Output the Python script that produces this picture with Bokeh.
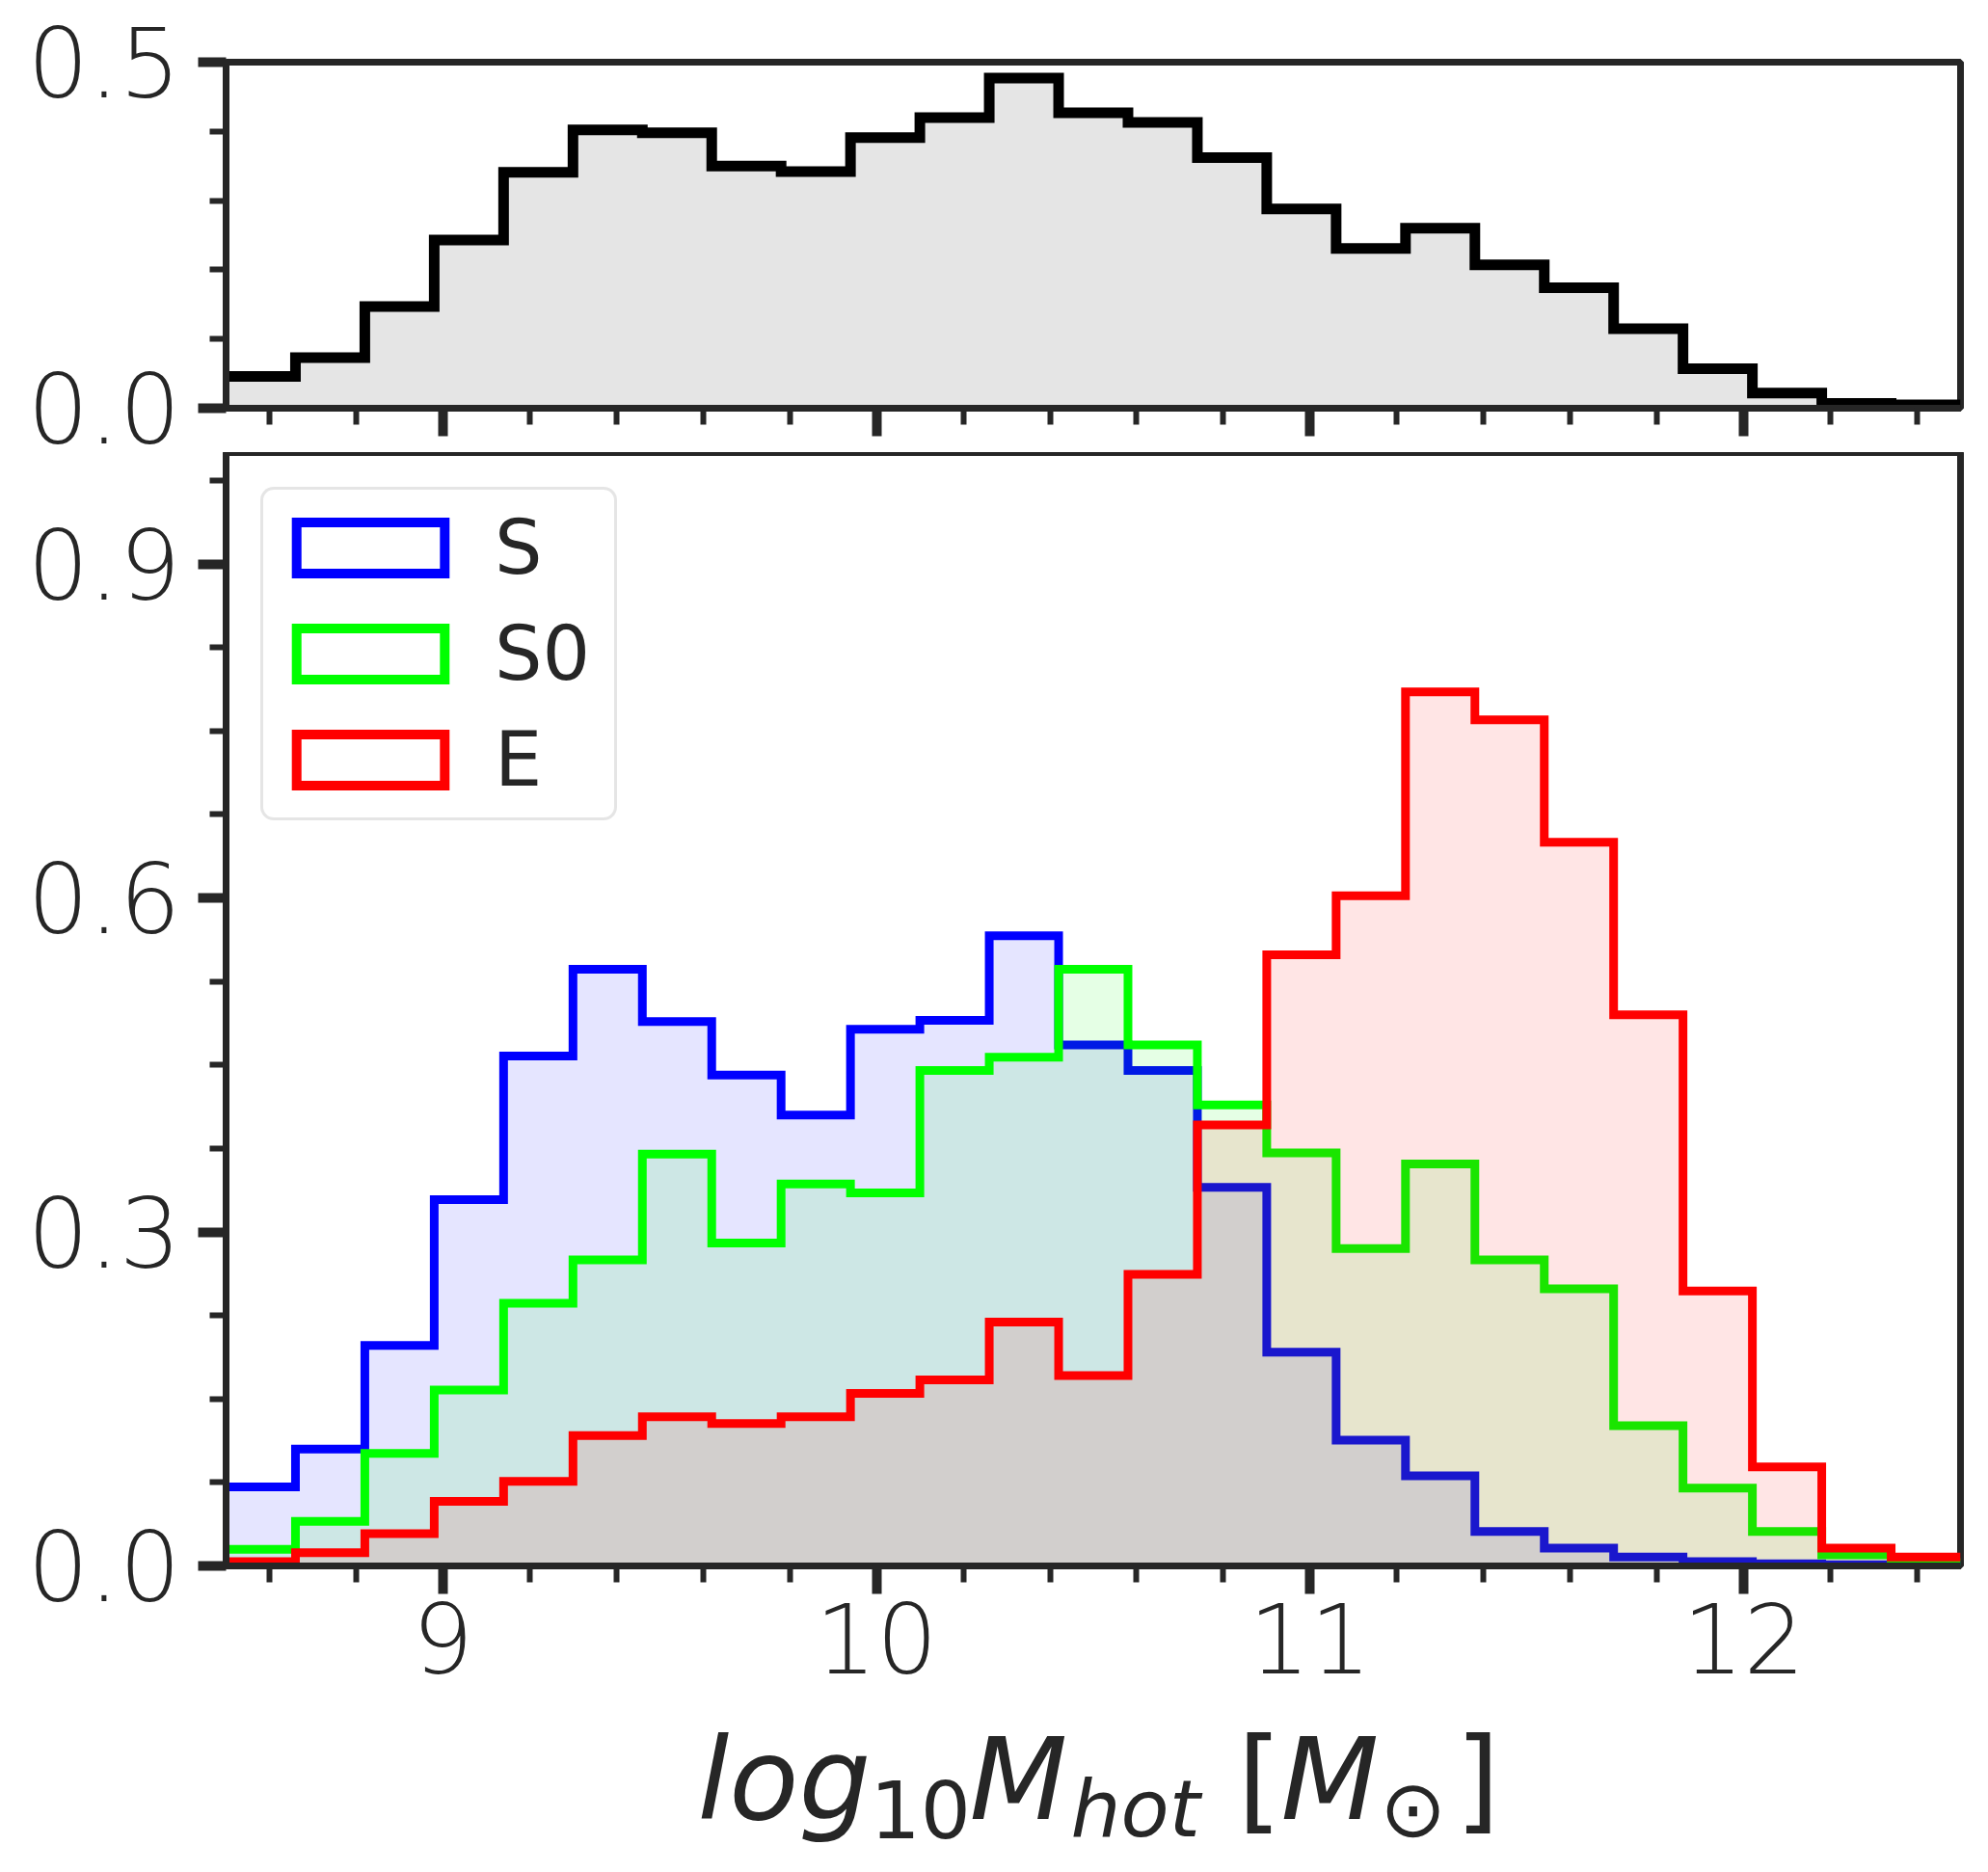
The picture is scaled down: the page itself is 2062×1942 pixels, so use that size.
import numpy as np
from bokeh.plotting import figure
from bokeh.layouts import column
from bokeh.models import (FixedTicker, Range1d, Label, Legend, LegendItem,
                          PrintfTickFormatter)
from bokeh.embed import file_html
from bokeh.resources import INLINE

# ---------------- data ----------------
x_min, x_max, n_bins = 8.5, 12.5, 25

all_density = [0.046, 0.073, 0.147, 0.243, 0.341, 0.402, 0.398, 0.350, 0.342,
               0.391, 0.420, 0.477, 0.427, 0.413, 0.362, 0.288, 0.231, 0.260,
               0.207, 0.174, 0.115, 0.057, 0.022, 0.007, 0.005]

S_density = [0.071, 0.105, 0.198, 0.329, 0.458, 0.536, 0.489, 0.441, 0.405,
             0.482, 0.490, 0.566, 0.468, 0.445, 0.340, 0.192, 0.113, 0.081,
             0.031, 0.016, 0.008, 0.004, 0.002, 0.001, 0.0005]

S0_density = [0.015, 0.040, 0.101, 0.158, 0.236, 0.275, 0.370, 0.290, 0.343,
              0.335, 0.445, 0.457, 0.536, 0.468, 0.414, 0.371, 0.285, 0.361,
              0.275, 0.249, 0.126, 0.070, 0.031, 0.010, 0.003]

E_density = [0.004, 0.012, 0.029, 0.058, 0.076, 0.117, 0.134, 0.128, 0.134,
             0.155, 0.167, 0.219, 0.171, 0.262, 0.396, 0.549, 0.602, 0.785,
             0.760, 0.650, 0.495, 0.247, 0.089, 0.016, 0.008]

series_names = ["S", "S0", "E"]
series_colors = ["#0000ff", "#00ff00", "#ff0000"]
series_values = [S_density, S0_density, E_density]

x_major = [9, 10, 11, 12]
x_minor = [8.6, 8.8, 9.2, 9.4, 9.6, 9.8, 10.2, 10.4, 10.6, 10.8,
           11.2, 11.4, 11.6, 11.8, 12.2, 12.4]
top_y_major = [0.0, 0.5]
top_y_minor = [0.1, 0.2, 0.3, 0.4]
bot_y_major = [0.0, 0.3, 0.6, 0.9]
bot_y_minor = [0.075, 0.15, 0.225, 0.375, 0.45, 0.525, 0.675, 0.75, 0.825, 0.975]

edges = np.linspace(x_min, x_max, n_bins + 1)


def step_vals(vals):
    return list(vals) + [vals[-1]]


TXT = "#262626"
FONT = "DejaVu Sans"
W = 2053
LEFT = 234
RIGHT = 20
TOP1 = 64
FRAME1 = 359
BOT1 = 76          # room for the top panel's "0.0" label
OVERLAP = 30       # bottom panel canvas slides up under that room
FRAME2 = 1155
BOT2 = 150
TITLE_H = 160


def style(p, xlabels=True):
    p.grid.visible = False
    p.outline_line_color = TXT
    p.outline_line_width = 7
    for ax in (p.xaxis[0], p.yaxis[0]):
        ax.axis_line_color = TXT
        ax.axis_line_width = 7
        ax.major_tick_line_color = TXT
        ax.minor_tick_line_color = TXT
        ax.major_tick_line_width = 10
        ax.minor_tick_line_width = 6
        ax.major_tick_out = 29
        ax.major_tick_in = 0
        ax.minor_tick_out = 17
        ax.minor_tick_in = 0
        ax.major_label_text_font = FONT
        ax.major_label_text_font_size = "100px"
        ax.major_label_text_color = TXT
    p.yaxis[0].major_label_standoff = 18
    p.xaxis[0].major_label_standoff = 9
    p.xaxis[0].ticker = FixedTicker(ticks=x_major, minor_ticks=x_minor)
    p.xaxis[0].formatter = PrintfTickFormatter(format="%d")
    p.yaxis[0].formatter = PrintfTickFormatter(format="%.1f")
    if not xlabels:
        p.xaxis[0].major_label_text_font_size = "0px"
        p.xaxis[0].major_label_text_color = None
        p.xaxis[0].major_label_standoff = 0


# ---------------- top panel ----------------
p1 = figure(width=W, height=TOP1 + FRAME1 + BOT1, x_range=Range1d(x_min, x_max),
            y_range=Range1d(0, 0.5), output_backend="svg",
            toolbar_location=None, min_border_left=LEFT, min_border_right=RIGHT,
            min_border_top=TOP1, min_border_bottom=BOT1)
style(p1, xlabels=False)
p1.yaxis[0].ticker = FixedTicker(ticks=top_y_major, minor_ticks=top_y_minor)
p1.varea_step(x=edges, y1=0, y2=step_vals(all_density), step_mode="after",
              fill_color="black", fill_alpha=0.1)
p1.step(x=edges, y=step_vals(all_density), mode="after", line_color="black",
        line_width=11, line_join="miter")

# ---------------- bottom panel ----------------
p2 = figure(width=W, height=FRAME2 + BOT2, x_range=p1.x_range,
            y_range=Range1d(0, 1.0), output_backend="svg",
            toolbar_location=None, min_border_left=LEFT, min_border_right=RIGHT,
            min_border_top=0, min_border_bottom=BOT2,
            styles={"margin-top": f"-{OVERLAP}px"})
p2.border_fill_alpha = 0
style(p2)
p2.yaxis[0].ticker = FixedTicker(ticks=bot_y_major, minor_ticks=bot_y_minor)

items = []
for name, col, vals in zip(series_names, series_colors, series_values):
    p2.varea_step(x=edges, y1=0, y2=step_vals(vals), step_mode="after",
                  fill_color=col, fill_alpha=0.1)
    p2.step(x=edges, y=step_vals(vals), mode="after", line_color=col,
            line_width=9, line_join="miter")
    proxy = p2.quad(left=[np.nan], right=[np.nan], top=[np.nan],
                    bottom=[np.nan], fill_color="white", line_color=col,
                    line_width=10, line_join="miter")
    items.append(LegendItem(label=name, renderers=[proxy]))

legend = Legend(items=items, location="top_left", margin=36, padding=15,
                spacing=20, glyph_width=192, glyph_height=66,
                label_standoff=33, label_width=109, label_text_font=FONT,
                label_text_font_size="78px", label_text_color=TXT,
                border_line_color="#cccccc", border_line_width=3,
                background_fill_color="white", background_fill_alpha=1.0)
if "border_radius" in Legend.properties():
    legend.border_radius = 14
p2.add_layout(legend)

# ---------------- x-axis title strip ----------------
# log10 M_hot [M_sun], assembled from real text pieces; the strip's frame
# lines up with the panels above and its data units are page pixels
p3 = figure(width=W, height=TITLE_H, x_range=Range1d(LEFT, W - RIGHT),
            y_range=Range1d(0, TITLE_H), output_backend="svg",
            toolbar_location=None, x_axis_location=None, y_axis_location=None,
            min_border_left=LEFT, min_border_right=RIGHT,
            min_border_top=0, min_border_bottom=0)
p3.grid.visible = False
p3.outline_line_color = None

# (text, left x, height of the text's anchor above the strip bottom, size, style)
pieces = [
    ("log", 723, 89, "118px", "italic"),
    ("10", 902, 58, "82px", "normal"),
    ("M", 1005, 89, "118px", "italic"),
    ("hot", 1110, 58, "82px", "italic"),
    ("[", 1283, 89, "118px", "normal"),
    ("M", 1328, 89, "118px", "italic"),
    ("\u2299", 1431, 58, "82px", "normal"),
    ("]", 1509, 89, "118px", "normal"),
]
for txt, sx, sy, size, st in pieces:
    p3.add_layout(Label(x=sx, y=sy, text=txt, text_font=FONT,
                        text_font_size=size, text_font_style=st,
                        text_color=TXT, text_align="left",
                        text_baseline="alphabetic"))

layout = column(p1, p2, p3, spacing=0)
open("out.html", "w").write(file_html(layout, INLINE))
